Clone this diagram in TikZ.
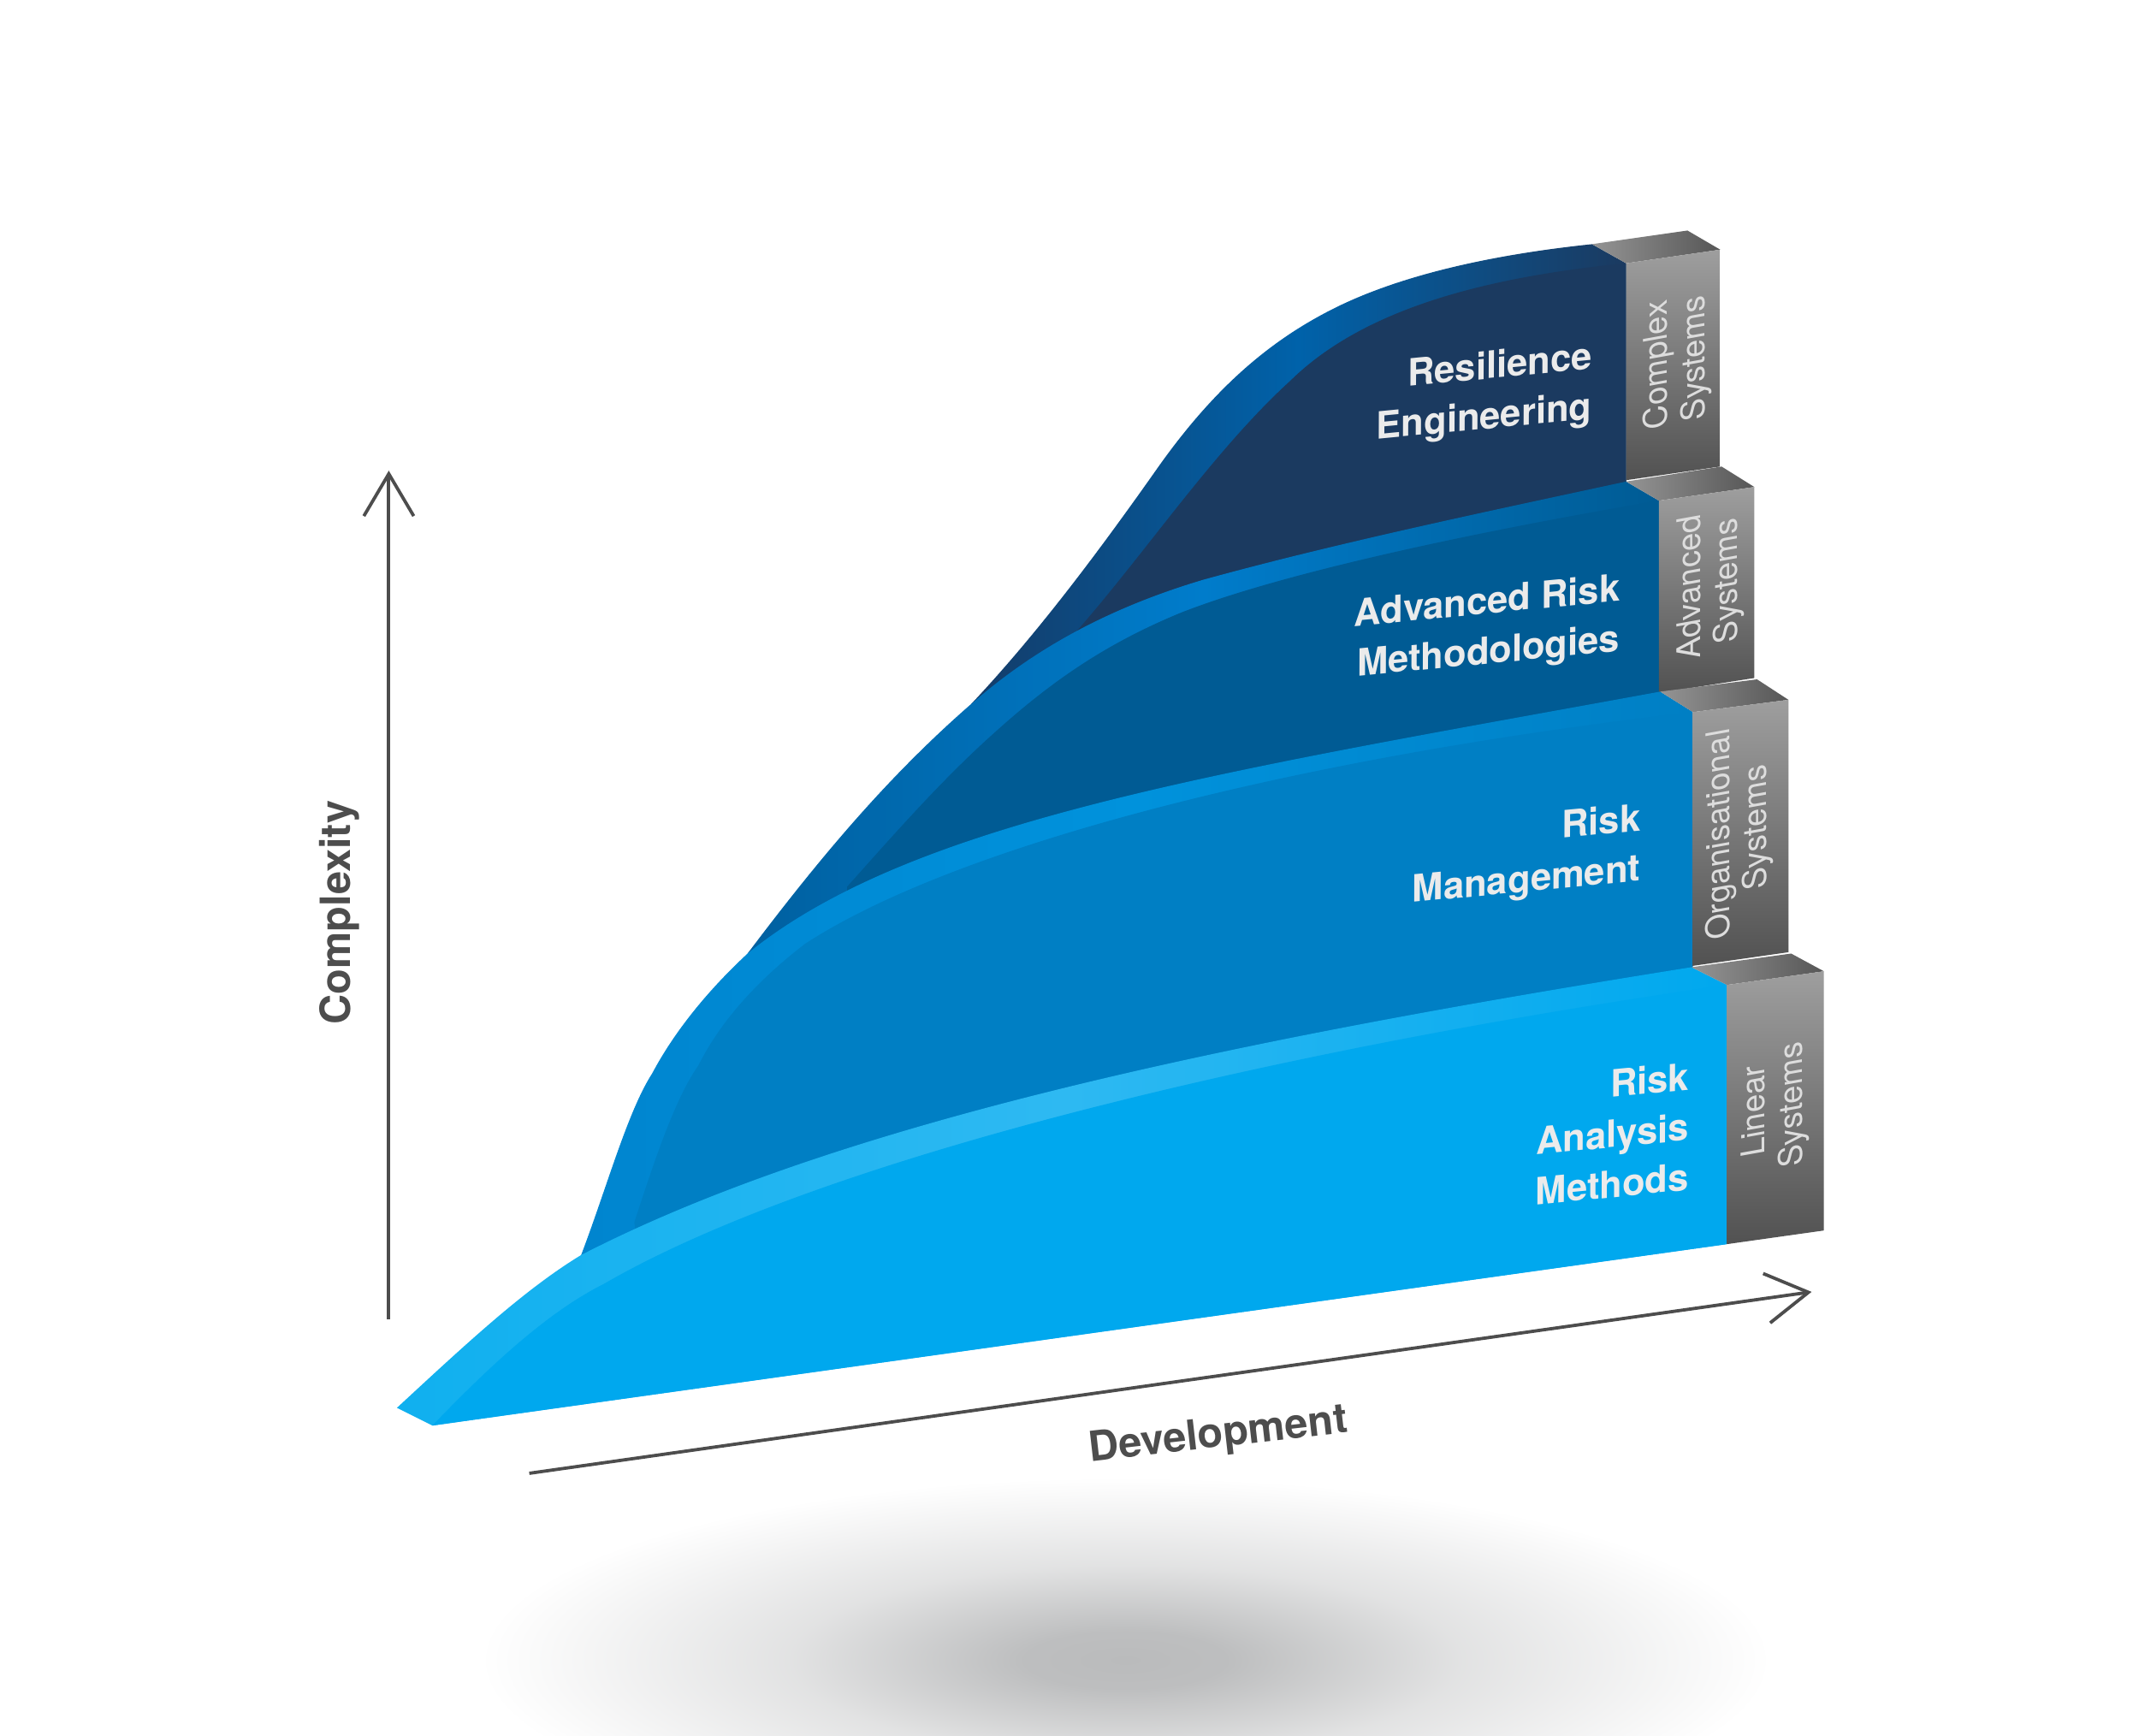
\documentclass[tikz,border=0pt]{standalone}
\usepackage{fontspec}
\setmainfont{TeX Gyre Heros}
\usetikzlibrary{arrows.meta}
\definecolor{axisgrey}{HTML}{4D4D4D}
\definecolor{captiongrey}{HTML}{DDDDDD}
\definecolor{shadowgrey}{HTML}{BABBBC}
% the ellipse edge falls at 25bp of the shading
\pgfdeclareradialshading{floorblur}{\pgfpointorigin}{color(0bp)=(shadowgrey); color(4bp)=(shadowgrey!95!white); color(13bp)=(shadowgrey!42!white); color(25bp)=(white); color(50bp)=(white)}

\begin{document}
\begin{tikzpicture}[
    x=0.25mm, y=-0.25mm,
    axisline/.style={-{Straight Barb[length=22pt, width=26pt, line width=1.7pt]}, line width=1.7pt, axisgrey},
    axislabel/.style={font=\fontsize{21.7}{26}\selectfont\bfseries, text=axisgrey, inner sep=0pt},
    stagelabel/.style={transform shape, rotate=5.5, xslant=0.1, align=right, inner sep=0pt, text=white!92!black, font=\fontsize{19.5}{26}\selectfont\bfseries},
    syslabel/.style={transform shape, rotate=90, xslant=-0.18, align=center, inner sep=0pt, text=captiongrey, font=\fontsize{17}{19.5}\selectfont},
    sysfront/.style={top color=black!38, bottom color=black!68},
    systop/.style={left color=black!42, right color=black!66}
]
\useasboundingbox (0,0) rectangle (1568,1272);

% floor shadow
\shade[shading=floorblur] (825,1217) ellipse (473 and 134);

% Resilience Engineering
\shade[left color={rgb,255:red,20;green,60;blue,105}, right color={rgb,255:red,27;green,58;blue,96}, middle color={rgb,255:red,0;green,98;blue,170}]
  (712,516) .. controls (760,465) and (805,405) .. (850,341) .. controls (890,285) and (930,250) .. (978,226)
  .. controls (1030,200) and (1100,186) .. (1167,179)
  -- (1192,193) -- (1192,400) -- (760,520) -- cycle;
\fill[fill={rgb,255:red,27;green,58;blue,96}]
  (789,463) .. controls (840,405) and (890,330) .. (946,279) .. controls (1000,226) and (1090,203) .. (1192,193)
  -- (1192,400) -- (770,520) -- cycle;
\shade[systop] (1167,179) -- (1237,169) -- (1261,183) -- (1192,193) -- cycle;
\shade[sysfront] (1192,193) -- (1261,183) -- (1261,342) -- (1192,352) -- cycle;

% Advanced Risk Methodologies
\shade[left color={rgb,255:red,0;green,96;blue,160}, right color={rgb,255:red,0;green,91;blue,148}, middle color={rgb,255:red,0;green,124;blue,203}]
  (548,699) .. controls (600,630) and (650,570) .. (712,516) .. controls (760,474) and (815,445) .. (882,425)
  .. controls (980,398) and (1090,375) .. (1192,353)
  -- (1216,367) -- (1216,560) -- (600,700) -- cycle;
\fill[fill={rgb,255:red,0;green,91;blue,148}]
  (621,650) .. controls (655,612) and (690,572) .. (728,538) .. controls (770,500) and (810,472) .. (866,449)
  .. controls (940,420) and (1080,390) .. (1216,367)
  -- (1216,560) -- (620,700) -- cycle;
\shade[systop] (1192,353) -- (1262,342) -- (1286,357) -- (1216,367) -- cycle;
\shade[sysfront] (1216,367) -- (1286,357) -- (1286,497) -- (1216,508) -- cycle;

% Risk Management
\shade[left color={rgb,255:red,0;green,133;blue,207}, right color={rgb,255:red,0;green,127;blue,196}, middle color={rgb,255:red,0;green,146;blue,220}]
  (426,920) .. controls (445,870) and (460,815) .. (478,787) .. controls (495,755) and (520,725) .. (548,699)
  .. controls (670,600) and (900,565) .. (1217,507)
  -- (1241,522) -- (1241,760) -- (450,930) -- cycle;
\fill[fill={rgb,255:red,0;green,127;blue,196}]
  (465,896) .. controls (480,850) and (495,805) .. (512,781) .. controls (530,745) and (560,715) .. (590,692)
  .. controls (700,620) and (950,555) .. (1241,522)
  -- (1241,760) -- (470,930) -- cycle;
\shade[systop] (1217,507) -- (1288,498) -- (1311,513) -- (1241,522) -- cycle;
\shade[sysfront] (1241,522) -- (1311,513) -- (1311,698) -- (1241,708) -- cycle;

% Risk Analysis Methods
\shade[left color={rgb,255:red,16;green,176;blue,239}, right color={rgb,255:red,0;green,168;blue,238}, middle color={rgb,255:red,46;green,185;blue,242}]
  (291,1032) .. controls (345,982) and (385,945) .. (426,920) .. controls (620,820) and (920,760) .. (1240,709)
  -- (1266,722) -- (1266,912) -- (317,1045) -- cycle;
\fill[fill={rgb,255:red,0;green,168;blue,238}]
  (317,1045) .. controls (365,995) and (405,960) .. (443,941) .. controls (600,850) and (930,770) .. (1266,722)
  -- (1266,912) -- cycle;
\shade[systop] (1240,709) -- (1313,699) -- (1337,712) -- (1266,722) -- cycle;
\shade[sysfront] (1266,722) -- (1337,712) -- (1337,902) -- (1266,912) -- cycle;

% labels
\node[stagelabel] (resilience) at (1088,289) {Resilience\\Engineering};
\node[stagelabel] (advanced) at (1090,461) {Advanced Risk\\Methodologies};
\node[stagelabel] (management) at (1119,628) {Risk\\Management};
\node[stagelabel] (analysis) at (1182,831) {Risk\\Analysis\\Methods};

\node[syslabel] (complex) at (1229.5,265) {Complex\\Systems};
\node[syslabel] (advsys) at (1254,428) {Advanced\\Systems};
\node[syslabel] (orgsys) at (1275,609) {Organisational\\Systems};
\node[syslabel] (linsys) at (1301.5,812) {Linear\\Systems};

% axes
\coordinate (ybase) at (285,967);
\coordinate (ytop) at (285,345);
\coordinate (xbase) at (388,1080);
\coordinate (xtip) at (1328,947);
\draw[axisline] (ybase) -- (ytop);
\draw[axisline] (xbase) -- (xtip);
\node[axislabel, rotate=90] (complexity) at (248.5,669) {Complexity};
\node[axislabel, rotate=6.5] (development) at (893,1053) {Development};
\end{tikzpicture}
\end{document}
